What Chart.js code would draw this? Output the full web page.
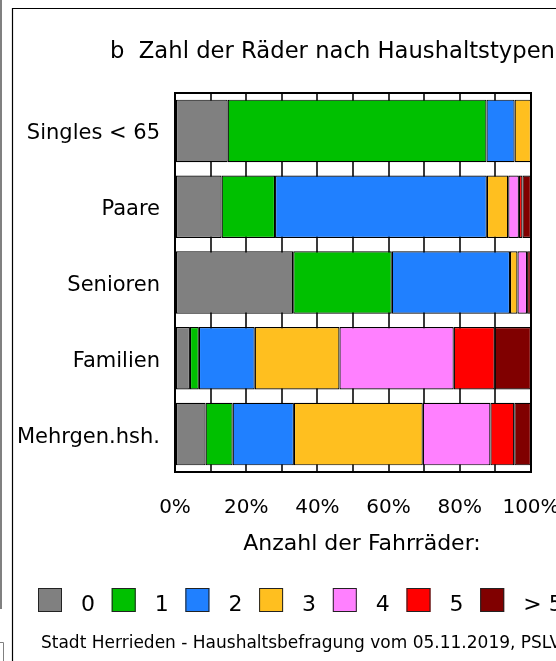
<!DOCTYPE html>
<html><head><meta charset="utf-8">
<script src="https://cdn.jsdelivr.net/npm/chart.js@4.4.0/dist/chart.umd.min.js"></script>
<style>html,body{margin:0;padding:0;background:#fff;overflow:hidden}</style>
</head><body>
<canvas id="c" width="556" height="661"></canvas>
<script>
// ---- data ----
const categories = ['Singles < 65', 'Paare', 'Senioren', 'Familien', 'Mehrgen.hsh.'];
const seriesLabels = ['0', '1', '2', '3', '4', '5', '> 5'];
const bikes0 = [14.8, 13.1, 33.2, 4.2, 8.6];
const bikes1 = [72.7, 15.0, 27.7, 2.5, 7.6];
const bikes2 = [7.9, 59.5, 33.2, 15.7, 17.2];
const bikes3 = [4.6, 6.0, 2.1, 23.8, 36.2];
const bikes4 = [0, 3.0, 2.7, 32.1, 19.0];
const bikes5 = [0, 1.0, 0, 11.5, 6.7];
const bikesMore = [0, 2.4, 1.1, 10.2, 4.7];
const tickLabels = ['0%', '20%', '40%', '60%', '80%', '100%'];
const chartTitle = 'b  Zahl der Räder nach Haushaltstypen';
const axisTitle = 'Anzahl der Fahrräder:';
const footerText = 'Stadt Herrieden - Haushaltsbefragung vom 05.11.2019, PSLV';

// ---- styles ----
const colors = ['#808080', '#00c000', '#2080ff', '#ffbf1f', '#ff80ff', '#ff0000', '#800000'];
const FONT = "'DejaVu Sans', sans-serif";
const seriesValues = [bikes0, bikes1, bikes2, bikes3, bikes4, bikes5, bikesMore];

const datasets = seriesValues.map((vals, i) => ({
  label: seriesLabels[i],
  data: vals,
  backgroundColor: colors[i],
  borderColor: '#000',
  borderWidth: 1.2,
  borderSkipped: false,
  barPercentage: 0.825,
  categoryPercentage: 1.0
}));

const decor = {
  id: 'decor',
  afterDraw(chart) {
    const ctx = chart.ctx;
    const a = chart.chartArea;
    ctx.save();
    // chart area frame
    ctx.strokeStyle = '#000';
    ctx.lineWidth = 2;
    ctx.strokeRect(a.left, a.top, a.right - a.left, a.bottom - a.top);
    // outer frames
    ctx.strokeStyle = '#808080';
    ctx.lineWidth = 2;
    ctx.beginPath(); ctx.moveTo(1, 0); ctx.lineTo(1, 609); ctx.stroke();
    ctx.lineWidth = 1;
    ctx.beginPath(); ctx.moveTo(0, 642.5); ctx.lineTo(3.5, 642.5); ctx.lineTo(3.5, 661); ctx.stroke();
    ctx.strokeStyle = '#000';
    ctx.lineWidth = 1.2;
    ctx.beginPath(); ctx.moveTo(12.5, 661); ctx.lineTo(12.5, 8.5); ctx.lineTo(556, 8.5); ctx.stroke();

    ctx.fillStyle = '#000';
    ctx.textBaseline = 'alphabetic';
    // title
    ctx.font = '22.7px ' + FONT;
    ctx.textAlign = 'left';
    ctx.fillText(chartTitle, 110, 58);
    // axis title
    ctx.font = '22px ' + FONT;
    ctx.textAlign = 'center';
    ctx.fillText(axisTitle, 362, 550);
    // legend
    ctx.textAlign = 'left';
    chart.data.datasets.forEach((ds, i) => {
      const x = 38 + i * 73.7;
      ctx.fillStyle = ds.backgroundColor;
      ctx.fillRect(x, 588, 24, 24);
      ctx.strokeStyle = '#222';
      ctx.lineWidth = 1;
      ctx.strokeRect(x + 0.5, 588.5, 23, 23);
      ctx.fillStyle = '#000';
      ctx.font = '22px ' + FONT;
      ctx.fillText(ds.label, x + 43, 611);
    });
    // footer
    ctx.font = '17px ' + FONT;
    ctx.fillText(footerText, 41, 648);
    ctx.restore();
  }
};

new Chart(document.getElementById('c'), {
  type: 'bar',
  data: { labels: categories, datasets },
  options: {
    indexAxis: 'y',
    responsive: false,
    animation: false,
    devicePixelRatio: 1,
    layout: { padding: { top: 93, right: 25, bottom: 0, left: 0 } },
    plugins: { legend: { display: false }, title: { display: false }, tooltip: { enabled: false } },
    scales: {
      x: {
        stacked: true,
        min: 0, max: 100,
        ticks: {
          stepSize: 10,
          autoSkip: false,
          maxRotation: 0,
          padding: 24,
          color: '#000',
          font: { family: FONT, size: 20 },
          callback: (v) => (v % 20 === 0 ? tickLabels[v / 20] : '')
        },
        grid: { color: '#3a3a3a', lineWidth: 2, drawTicks: false },
        border: { display: false },
        afterFit(scale) { scale.height = 189; scale.paddingLeft = 0; scale.paddingRight = 0; }
      },
      y: {
        stacked: true,
        ticks: { padding: 15, labelOffset: 3, color: '#000', font: { family: FONT, size: 21 } },
        grid: { display: false, drawTicks: false },
        border: { display: false },
        afterFit(scale) { scale.width = 175; scale.paddingTop = 0; scale.paddingBottom = 0; }
      }
    }
  },
  plugins: [decor]
});
</script>
</body></html>
